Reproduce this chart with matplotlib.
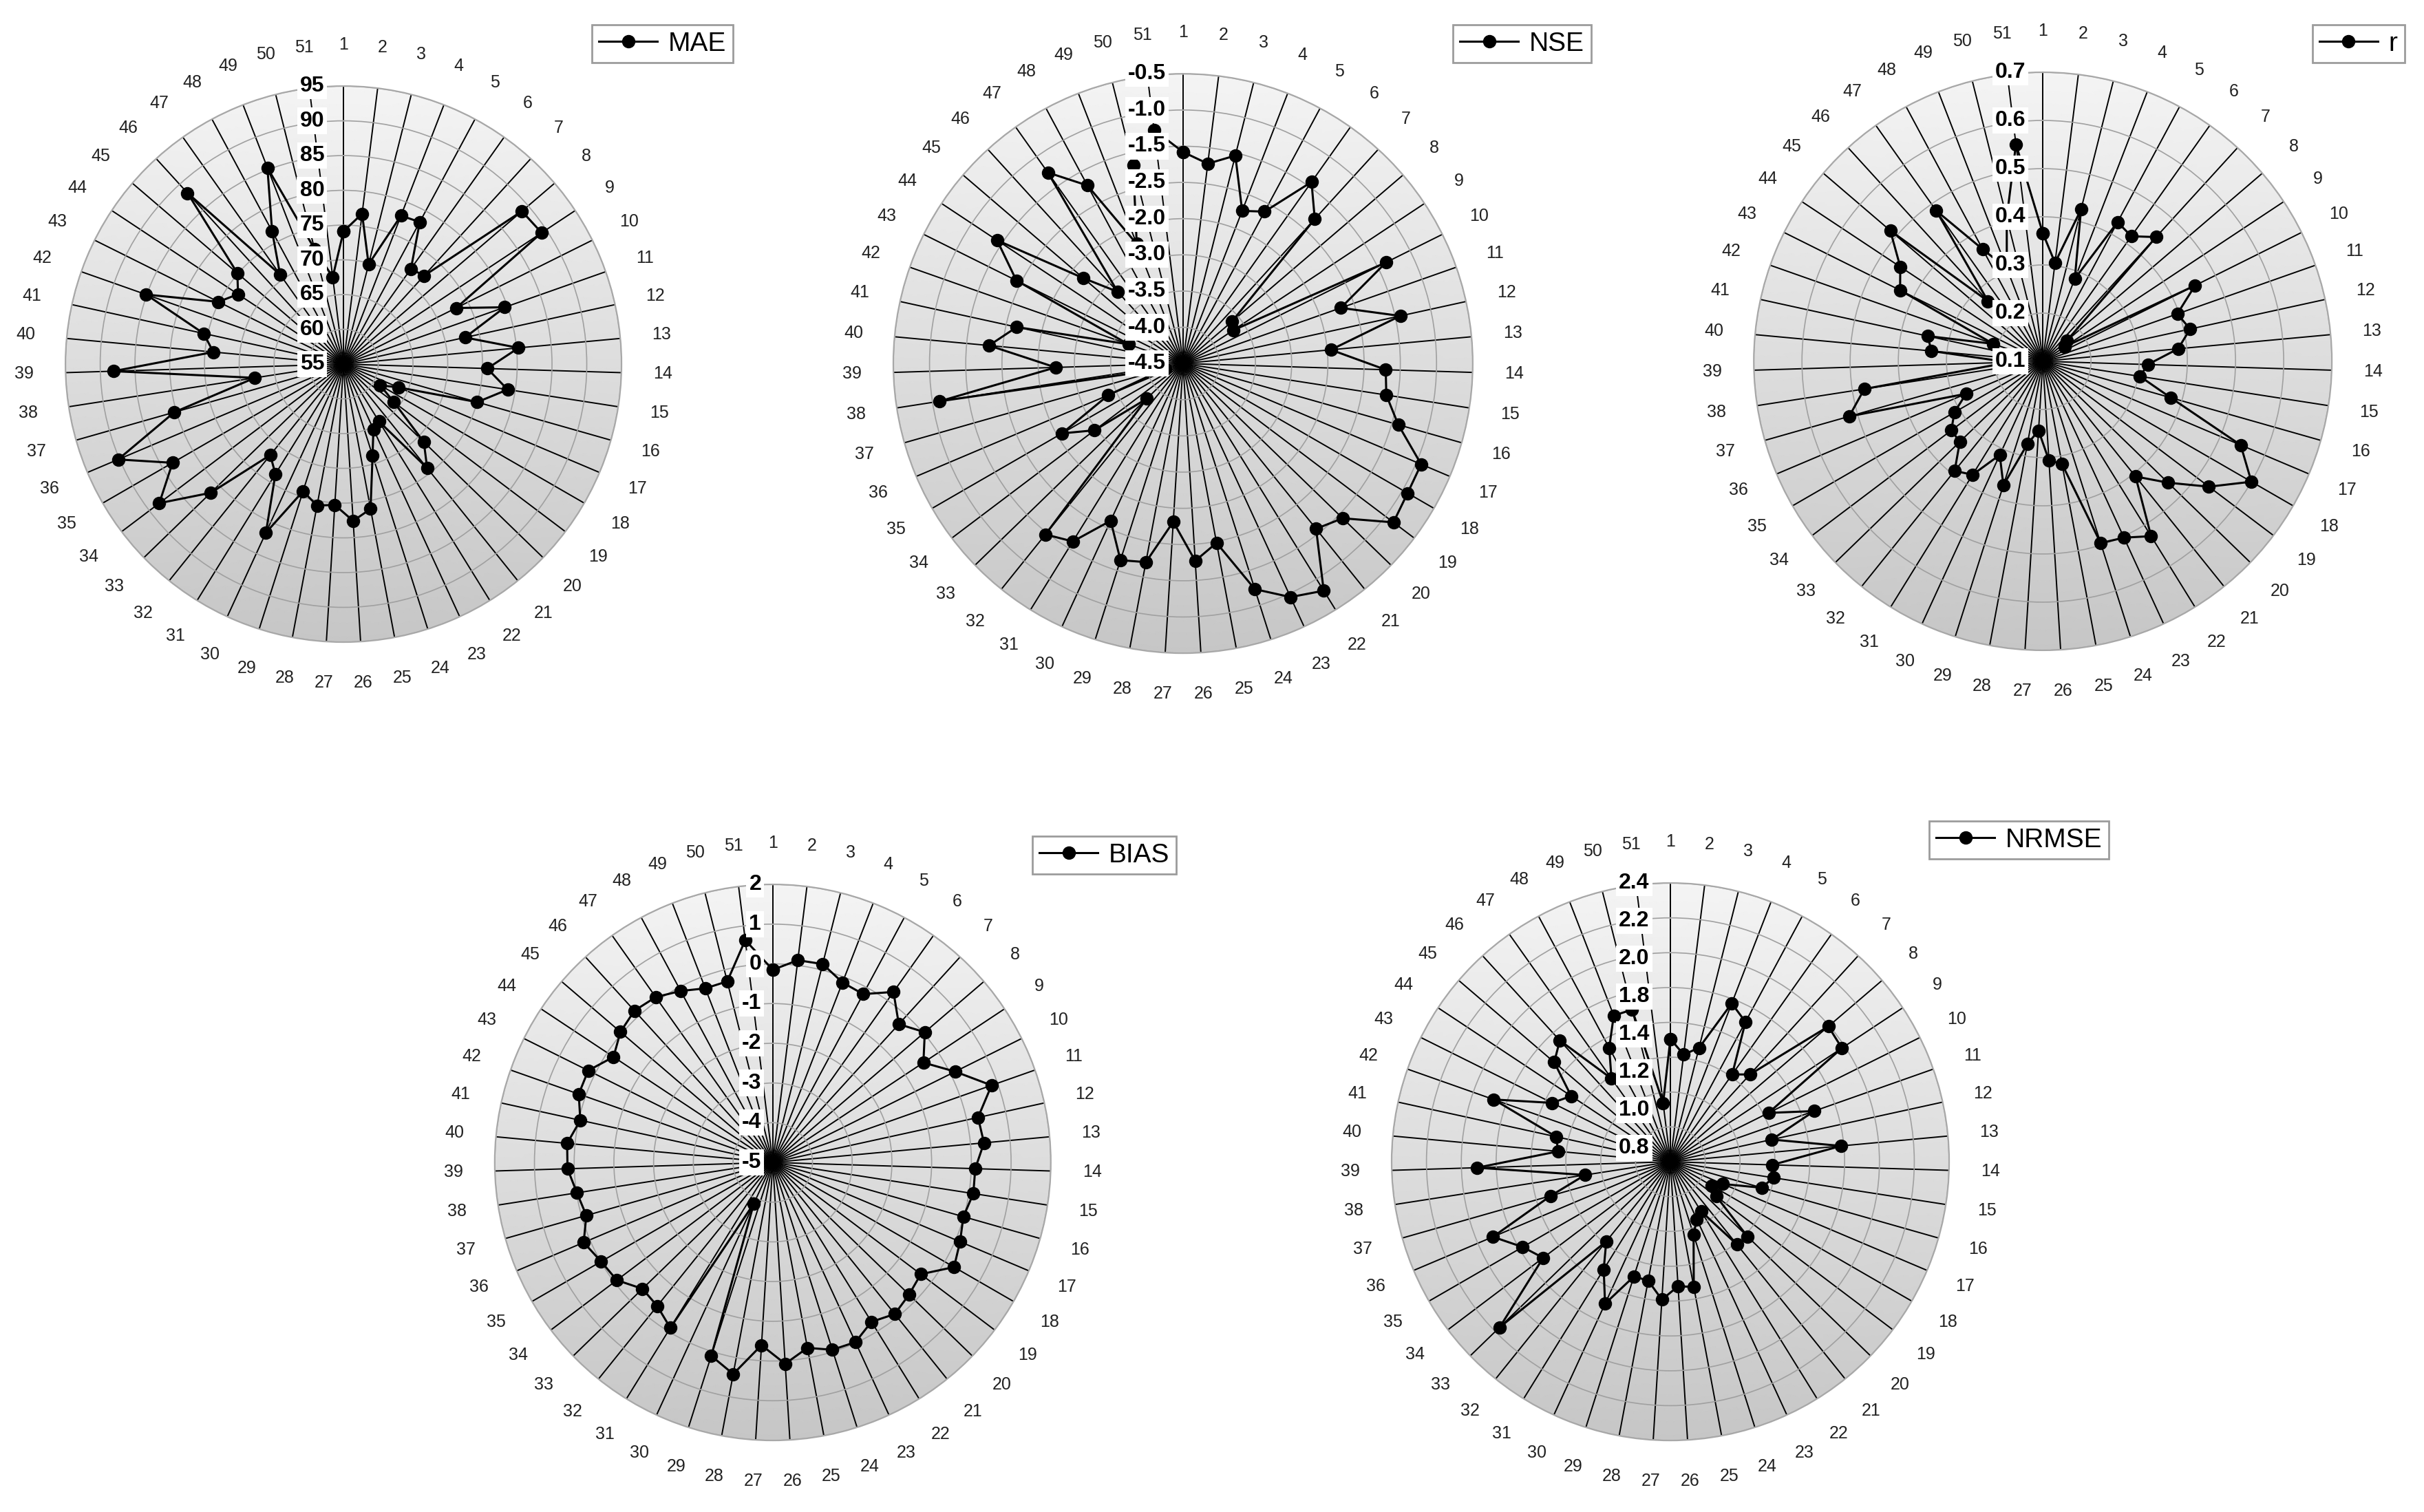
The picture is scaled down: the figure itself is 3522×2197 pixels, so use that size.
import numpy as np
import matplotlib.pyplot as plt
import matplotlib.transforms as mtransforms
from matplotlib.colors import LinearSegmentedColormap

plt.rcParams['font.family'] = ['Liberation Sans', 'DejaVu Sans']

# station numbers around each radar
stations = [str(i) for i in range(1, 52)]

mae = [74.1, 76.8, 69.8, 77.9, 78.2, 71.8, 72.2, 88.8, 89.2, 73.1,
       79.6, 72.9, 80.3, 75.7, 78.9, 75.0, 63.6, 61.1, 64.1, 71.1,
       74.2, 64.7, 65.3, 68.8, 76.2, 77.6, 75.3, 75.7, 74.2, 81.7,
       73.6, 71.8, 81.6, 88.2, 83.4, 90.2, 80.3, 67.9, 88.1, 73.8,
       75.6, 85.1, 75.1, 73.2, 75.1, 88.3, 70.8, 76.7, 85.3, 72.1, 67.6]

nse = [-1.58, -1.72, -1.54, -2.24, -2.12, -1.43, -1.80, -3.61, -3.67, -1.37,
       -2.19, -1.43, -2.45, -1.70, -1.66, -1.41, -0.93, -0.92, -0.86, -1.43,
       -1.57, -0.81, -0.95, -1.23, -1.98, -1.77, -2.31, -1.71, -1.65, -2.11,
       -1.61, -1.47, -3.80, -2.97, -2.57, -3.38, -4.24, -1.10, -2.74, -1.81,
       -2.15, -3.70, -1.93, -1.42, -2.69, -3.16, -1.27, -1.71, -2.73, -1.68, -1.25]

r_corr = [0.366, 0.306, 0.425, 0.284, 0.428, 0.418, 0.449, 0.165, 0.155, 0.453,
          0.396, 0.413, 0.382, 0.318, 0.304, 0.376, 0.546, 0.600, 0.532, 0.462,
          0.407, 0.527, 0.503, 0.496, 0.317, 0.306, 0.244, 0.275, 0.370, 0.314,
          0.377, 0.392, 0.340, 0.338, 0.312, 0.273, 0.518, 0.475, 0.170, 0.332,
          0.345, 0.209, 0.431, 0.455, 0.517, 0.269, 0.483, 0.364, 0.307, 0.407, 0.554]

bias = [-0.15, 0.13, 0.15, -0.14, -0.19, 0.26, -0.29, 0.04, -0.45, 0.13,
        0.84, 0.29, 0.34, 0.10, 0.11, -0.01, 0.12, 0.27, -0.33, -0.22,
        -0.10, -0.28, -0.02, -0.05, -0.25, 0.08, -0.39, 0.42, 0.11, -3.86,
        -0.10, -0.36, -0.43, -0.08, -0.01, 0.17, -0.12, -0.01, 0.17, 0.20,
        -0.04, 0.18, 0.19, -0.19, 0.05, 0.17, 0.10, -0.10, -0.30, -0.30, 0.64]

nrmse = [1.505, 1.420, 1.474, 1.775, 1.711, 1.414, 1.478, 1.994, 1.981, 1.429,
         1.675, 1.396, 1.784, 1.385, 1.398, 1.345, 1.128, 1.075, 1.130, 1.418,
         1.409, 1.135, 1.163, 1.239, 1.531, 1.516, 1.593, 1.494, 1.491, 1.697,
         1.527, 1.387, 2.165, 1.715, 1.779, 1.906, 1.514, 1.296, 1.910, 1.447,
         1.471, 1.875, 1.558, 1.483, 1.678, 1.742, 1.385, 1.542, 1.700, 1.700, 1.139]

# radial tick texts as printed on the figure
mae_ticks = ['55', '60', '65', '70', '75', '80', '85', '90', '95']
nse_ticks = ['-4.5', '-4.0', '-3.5', '-3.0', '-2.0', '-2.5', '-1.5', '-1.0', '-0.5']
r_ticks = ['0.1', '0.2', '0.3', '0.4', '0.5', '0.6', '0.7']
bias_ticks = ['-5', '-4', '-3', '-2', '-1', '0', '1', '2']
nrmse_ticks = ['0.8', '1.0', '1.2', '1.4', '1.8', '2.0', '2.2', '2.4']

bg_cmap = LinearSegmentedColormap.from_list('bg', ['#c6c6c6', '#f4f4f4'])

fig = plt.figure(figsize=(17.61, 10.985), dpi=200)


def radar(rect, values, name, rmin, rmax, nint, ticks, tick_lo, legend_xy, label_dx):
    ax = fig.add_axes(rect, projection='polar')
    ax.set_theta_zero_location('N')
    ax.set_theta_direction(-1)
    ax.set_facecolor('none')
    n = len(values)
    angles = np.arange(n) * 2 * np.pi / n

    # vertical grey gradient inside the circle
    th = np.linspace(0, 2 * np.pi, 241)
    rr = np.linspace(rmin, rmax, 40)
    T, RR = np.meshgrid(th, rr)
    shade = (RR - rmin) / (rmax - rmin) * np.cos(T)
    ax.pcolormesh(T, RR, shade, cmap=bg_cmap, vmin=-1, vmax=1,
                  shading='gouraud', zorder=0)

    ax.set_ylim(rmin, rmax)
    ax.set_xticks(angles)
    ax.set_xticklabels([])
    ax.set_yticks(np.linspace(rmin, rmax, nint + 1))
    ax.set_yticklabels([])
    ax.xaxis.grid(True, color='black', lw=0.7)
    ax.yaxis.grid(True, color='#a0a0a0', lw=0.6)
    ax.tick_params(length=0)
    ax.spines['polar'].set(color='#a8a8a8', lw=0.8)

    # station labels at a fixed distance outside the rim
    off = 0.30
    for a, s in zip(angles, stations):
        tr = ax.transData + mtransforms.ScaledTranslation(
            off * np.sin(a), off * np.cos(a), fig.dpi_scale_trans)
        ax.text(a, rmax, s, transform=tr, ha='center', va='center',
                fontsize=9, color='#222222', clip_on=False)

    ax.plot(np.append(angles, angles[0]), np.append(values, values[0]),
            color='black', lw=1.1, marker='o', ms=6, zorder=3, label=name)

    trans = mtransforms.offset_copy(ax.transData, fig=fig, x=-label_dx, y=0, units='points')
    for txt, pos in zip(ticks, np.linspace(tick_lo, rmax, len(ticks))):
        ax.text(0, pos, txt, transform=trans, ha='right', va='center',
                fontsize=11.5, fontweight='bold', zorder=6,
                bbox=dict(fc='white', ec='none', pad=1.5))

    leg = ax.legend(loc='upper left', bbox_to_anchor=legend_xy,
                    bbox_transform=fig.transFigure, fancybox=False,
                    edgecolor='#9c9c9c', framealpha=1, fontsize=14,
                    handlelength=2.2, borderaxespad=0, borderpad=0.25,
                    handletextpad=0.4)
    leg.get_frame().set_linewidth(1.0)
    return ax


radar([0.0270, 0.5753, 0.2294, 0.3678], mae, 'MAE', 55, 95, 8,
      mae_ticks, 55, (0.2442, 0.9836), 10)
radar([0.3685, 0.5680, 0.2391, 0.3832], nse, 'NSE', -4.5, -0.5, 8,
      nse_ticks, -4.5, (0.5994, 0.9836), 9)
radar([0.7235, 0.5699, 0.2385, 0.3823], r_corr, 'r', 0.1, 0.7, 6,
      r_ticks, 0.1, (0.9540, 0.9836), 9)
radar([0.2041, 0.0473, 0.2294, 0.3678], bias, 'BIAS', -5, 2, 7,
      bias_ticks, -5, (0.4259, 0.4470), 6)
radar([0.5741, 0.0473, 0.2300, 0.3687], nrmse, 'NRMSE', 0.8, 2.4, 8,
      nrmse_ticks, 0.88, (0.7959, 0.4570), 11)

fig.savefig('out.png', dpi=200, facecolor='white')
